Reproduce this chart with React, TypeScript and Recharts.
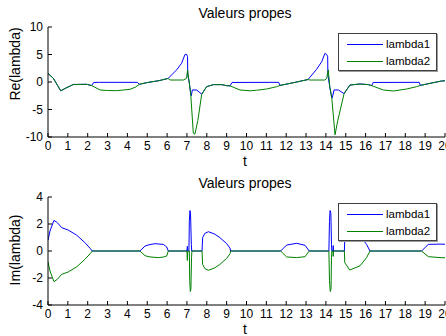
import React from 'react';
import { LineChart, Line, XAxis, YAxis, Legend, Customized } from 'recharts';

const FONT = '"Liberation Sans", Arial, Helvetica, sans-serif';

const tTicks = [0, 1, 2, 3, 4, 5, 6, 7, 8, 9, 10, 11, 12, 13, 14, 15, 16, 17, 18, 19, 20];
const reTicks = [-10, -5, 0, 5, 10];
const imTicks = [-4, -2, 0, 2, 4];
const titleText = 'Valeurs propes';
const seriesNames = ['lambda1', 'lambda2'];

// [t, value]
const reLambda1 = [
  [0, 1.55], [0.27, 0.67], [0.64, -1.6], [0.9, -1.1], [1.28, -0.45], [1.95, -0.42], [2.2, -0.65],
  [2.3, -0.08], [2.6, -0.06], [4.5, -0.06], [4.6, -0.42], [5.0, -0.1], [5.6, 0.25], [6.05, 0.65],
  [6.48, 2.2], [6.73, 3.4], [6.9, 5.0], [6.98, 5.05], [7.03, 4.6], [7.04, 1.3], [7.12, -0.2],
  [7.19, -2.2], [7.22, -2.5], [7.27, -1.45], [7.49, -1.45], [7.74, -2.2], [7.99, -0.85], [8.33, -0.48],
  [8.75, -0.48], [9.0, -0.67], [9.17, -0.7], [9.27, -0.08], [11.62, -0.06], [11.69, -0.62],
  [12.4, -0.1], [13.1, 0.45], [13.53, 2.3], [13.79, 3.7], [13.95, 5.2], [14.04, 5.0], [14.09, 4.6],
  [14.1, 1.3], [14.2, -1.0], [14.29, -2.8], [14.32, -2.9], [14.41, -1.45], [14.63, -1.45], [14.91, -2.1],
  [15.21, -0.55], [15.72, -0.36], [16.14, -0.48], [16.31, -0.67], [16.38, -0.08], [18.7, -0.06],
  [18.76, -0.62], [19.3, -0.2], [19.83, 0.18], [20, 0.22],
];
const reLambda2 = [
  [0, 1.55], [0.27, 0.67], [0.64, -1.6], [0.9, -1.1], [1.28, -0.45], [1.95, -0.42], [2.2, -0.65],
  [2.62, -1.45], [3.0, -1.55], [3.46, -1.58], [4.13, -1.33], [4.4, -0.95], [4.6, -0.42], [5.0, -0.1],
  [5.6, 0.25], [6.05, 0.65], [6.15, 0.36], [6.82, 0.36], [6.98, 0.67], [7.03, 2.2], [7.12, -0.2],
  [7.19, -2.2], [7.32, -9.3], [7.4, -9.5], [7.55, -7.0], [7.74, -2.3], [7.99, -0.85], [8.33, -0.48],
  [8.75, -0.48], [9.0, -0.67], [9.17, -0.7], [9.67, -1.45], [10.18, -1.6], [10.5, -1.5], [11.02, -1.27],
  [11.52, -0.85], [11.69, -0.62], [12.4, -0.1], [13.1, 0.45], [13.19, 0.36], [13.95, 0.36], [14.04, 0.67],
  [14.12, 2.2], [14.2, -1.0], [14.29, -2.67], [14.46, -9.6], [14.6, -7.0], [14.91, -2.2], [15.21, -0.55],
  [15.72, -0.36], [16.14, -0.48], [16.31, -0.67], [16.89, -1.45], [17.4, -1.64], [18.07, -1.27],
  [18.57, -0.85], [18.76, -0.62], [19.3, -0.2], [19.83, 0.18], [20, 0.22],
];
const imLambda1 = [
  [0, 0.8], [0.1, 1.48], [0.3, 2.27], [0.47, 2.1], [0.69, 1.73], [1.02, 1.55], [1.44, 1.18], [1.86, 0.62],
  [2.12, 0.2], [2.23, 0], [4.63, 0], [4.89, 0.37], [5.14, 0.48], [5.39, 0.54], [5.81, 0.49], [5.98, 0.3],
  [6.06, 0], [7.0, 0], [7.02, 0.35], [7.04, 0], [7.1, 0], [7.12, 2.2], [7.15, 3.0], [7.18, 2.8],
  [7.22, 0.5], [7.24, 0], [7.76, 0], [7.79, 0.99], [7.9, 1.3], [8.08, 1.43], [8.4, 1.25], [8.66, 0.99],
  [9.0, 0.55], [9.17, 0.2], [9.2, 0], [11.72, 0], [12.02, 0.44], [12.53, 0.57], [12.95, 0.42], [13.16, 0],
  [14.15, 0], [14.18, 2.2], [14.21, 3.0], [14.25, 2.8], [14.28, 0.5], [14.3, 0], [14.36, 0], [14.37, 0.4],
  [14.38, 0], [14.93, 0], [14.95, 0.8], [15.2, 1.41], [15.72, 1.1], [16.05, 0.49], [16.22, 0],
  [18.82, 0], [19.16, 0.49], [19.75, 0.51], [20, 0.5],
];
const imLambda2 = [
  [0, -0.8], [0.1, -1.48], [0.3, -2.27], [0.47, -2.1], [0.69, -1.73], [1.02, -1.55], [1.44, -1.18], [1.86, -0.62],
  [2.12, -0.2], [2.23, 0], [4.63, 0], [4.89, -0.35], [5.14, -0.44], [5.56, -0.49], [5.81, -0.45], [5.98, -0.37],
  [6.06, 0], [7.0, 0], [7.02, -0.7], [7.04, 0], [7.12, 0], [7.14, -2.2], [7.17, -3.0], [7.2, -2.8],
  [7.23, -0.5], [7.25, 0], [7.76, 0], [7.79, -0.99], [7.9, -1.3], [8.08, -1.43], [8.4, -1.25], [8.66, -0.99],
  [9.0, -0.55], [9.17, -0.2], [9.2, 0], [11.72, 0], [12.02, -0.44], [12.53, -0.49], [12.95, -0.42], [13.16, 0],
  [14.15, 0], [14.18, -2.2], [14.22, -3.0], [14.26, -2.8], [14.28, -0.5], [14.3, 0], [14.36, 0], [14.37, -0.4],
  [14.38, 0], [14.93, 0], [14.95, -0.86], [15.2, -1.41], [15.72, -1.1], [16.05, -0.49], [16.22, 0],
  [18.82, 0], [19.16, -0.42], [19.75, -0.49], [20, -0.5],
];

const toPts = (a: number[][]) => a.map(([t, v]) => ({ t, v }));

const BLUE = '#0000ff';
const GREEN = '#008000';

const LegendBox = (props: any) => {
  const payload = props.payload || [];
  return (
    <div
      style={{
        width: 99,
        height: 38,
        border: '1px solid #404040',
        boxShadow: '1px 1px 0 #9a9a9a',
        background: '#fff',
        boxSizing: 'border-box',
        position: 'relative',
        fontFamily: FONT,
        fontSize: 11.5,
        color: '#000',
      }}
    >
      {payload.map((it: any, i: number) => (
        <div
          key={i}
          style={{ position: 'absolute', left: 8, top: 3 + i * 17, height: 14, display: 'flex', alignItems: 'center' }}
        >
          <div style={{ width: 36, height: 0, borderTop: `1px solid ${it.color}` }} />
          <span style={{ marginLeft: 3, lineHeight: '14px' }}>{it.value}</span>
        </div>
      ))}
    </div>
  );
};

type PanelProps = {
  yLabel: string;
  yDomain: [number, number];
  yTicks: number[];
  s1: number[][];
  s2: number[][];
  height: number;
  plotBottom: number;
  xLabelY: number;
  yLabelY: number;
};

function Panel({ yLabel, yDomain, yTicks, s1, s2, height, plotBottom, xLabelY, yLabelY }: PanelProps) {
  const xAxisHeight = height - plotBottom;
  const labels = () => (
    <g style={{ fontFamily: FONT }}>
      <text x={245} y={13} textAnchor="middle" dominantBaseline="central" fontSize={14} fill="#000">
        {titleText}
      </text>
      <text x={245} y={xLabelY} textAnchor="middle" dominantBaseline="central" fontSize={14} fill="#000">
        t
      </text>
      <text
        x={15}
        y={yLabelY}
        textAnchor="middle"
        dominantBaseline="central"
        fontSize={14}
        fill="#000"
        transform={`rotate(-90, 15, ${yLabelY})`}
      >
        {yLabel}
      </text>
    </g>
  );
  return (
    <LineChart
      width={446}
      height={height}
      margin={{ top: 27, right: 1, bottom: 0, left: 0 }}
      style={{ fontFamily: FONT }}
    >
      <XAxis
        dataKey="t"
        type="number"
        domain={[0, 20]}
        ticks={tTicks}
        interval={0}
        allowDataOverflow
        height={xAxisHeight}
        tickSize={-4}
        tickMargin={8.5}
        stroke="#000"
        tick={{ fill: '#000', fontSize: 12 }}
      />
      <XAxis
        xAxisId="top"
        orientation="top"
        dataKey="t"
        type="number"
        domain={[0, 20]}
        ticks={tTicks}
        interval={0}
        allowDataOverflow
        height={0}
        tickSize={-4}
        stroke="#000"
        tick={false}
      />
      <YAxis
        type="number"
        domain={yDomain}
        ticks={yTicks}
        interval={0}
        allowDataOverflow
        width={48}
        tickSize={-4}
        tickMargin={9}
        stroke="#000"
        tick={{ fill: '#000', fontSize: 12 }}
      />
      <YAxis
        yAxisId="right"
        orientation="right"
        type="number"
        domain={yDomain}
        ticks={yTicks}
        interval={0}
        allowDataOverflow
        width={0}
        tickSize={-4}
        stroke="#000"
        tick={false}
      />
      <Line
        name={seriesNames[0]}
        data={toPts(s1)}
        dataKey="v"
        type="linear"
        stroke={BLUE}
        strokeWidth={1}
        dot={false}
        activeDot={false}
        isAnimationActive={false}
      />
      <Line
        name={seriesNames[1]}
        data={toPts(s2)}
        dataKey="v"
        type="linear"
        stroke={GREEN}
        strokeWidth={1}
        dot={false}
        activeDot={false}
        isAnimationActive={false}
      />
      <Legend
        layout="horizontal"
        verticalAlign="middle"
        align="center"
        content={<LegendBox />}
        wrapperStyle={{ position: 'absolute', left: 338, top: 33, width: 99, height: 38 }}
      />
      <Customized component={labels} />
    </LineChart>
  );
}

export default function App() {
  return (
    <div style={{ position: 'absolute', left: 0, top: 0, width: 446, height: 336, background: '#fff' }}>
      <div style={{ position: 'absolute', left: 0, top: 0 }}>
        <Panel
          yLabel="Re(lambda)"
          yDomain={[-10, 10]}
          yTicks={reTicks}
          s1={reLambda1}
          s2={reLambda2}
          height={170}
          plotBottom={137}
          xLabelY={161}
          yLabelY={64}
        />
      </div>
      <div style={{ position: 'absolute', left: 0, top: 170 }}>
        <Panel
          yLabel="Im(lambda)"
          yDomain={[-4, 4]}
          yTicks={imTicks}
          s1={imLambda1}
          s2={imLambda2}
          height={166}
          plotBottom={135}
          xLabelY={159}
          yLabelY={80}
        />
      </div>
    </div>
  );
}
